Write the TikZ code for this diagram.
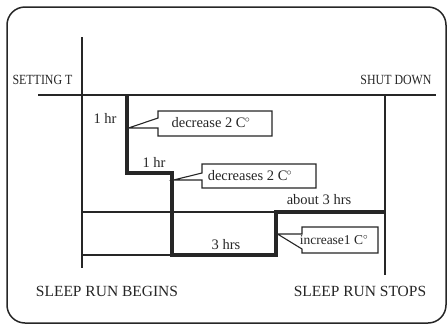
\documentclass[tikz,border=0pt]{standalone}
\usepackage{fontspec}
\setmainfont{Liberation Serif}
\begin{document}
\begin{tikzpicture}[x=1pt,y=-1pt,
  thin line/.style={draw=black!85, line width=1.2pt},
  thick line/.style={draw=black!85, line width=3.2pt, line join=miter},
  callout/.style={draw=black!85, line width=1.1pt, fill=white},
  lbl/.style={font=\fontsize{14.5}{16}\selectfont, text=black!85, inner sep=0pt},
  toplbl/.style={font=\fontsize{14}{16}\selectfont, text=black!85, inner sep=0pt},
  botlbl/.style={font=\fontsize{15.5}{17}\selectfont, text=black!85, inner sep=0pt},
]
\useasboundingbox (0,0) rectangle (448,325);
% outer frame
\draw[draw=black!85, line width=1.5pt, rounded corners=18pt] (7,7) rectangle (446,323);

% named coordinates
\coordinate (axT) at (82,37);
\coordinate (axB) at (82,268);
\coordinate (hL) at (38,95);
\coordinate (hR) at (436,95);
\coordinate (rT) at (385,95);
\coordinate (rB) at (385,275);
\coordinate (m1L) at (82,212);
\coordinate (m1R) at (276,212);
\coordinate (m2L) at (82,255);
\coordinate (m2R) at (172,255);

\draw[thin line] (axT) -- (axB);
\draw[thin line] (hL) -- (hR);
\draw[thin line] (rT) -- (rB);
\draw[thin line] (m1L) -- (m1R);
\draw[thin line] (m2L) -- (m2R);

% thick step profile
\coordinate (s0) at (127,95);
\coordinate (s1) at (127,173);
\coordinate (s2) at (172,173);
\coordinate (s3) at (172,255);
\coordinate (s4) at (276,255);
\coordinate (s5) at (276,212);
\coordinate (s6) at (385,212);
\draw[thick line] (s0) -- (s1) -- (s2) -- (s3) -- (s4) -- (s5) -- (s6);

% callouts
\draw[callout] (158,111) -- (272,111) -- (272,136) -- (158,136) -- (158,128) -- (128.5,128) -- (158,118) -- cycle;
\draw[callout] (202,164) -- (316,164) -- (316,188) -- (202,188) -- (202,180) -- (173.5,180) -- (202,173) -- cycle;
\draw[callout] (302,227) -- (378,227) -- (378,253) -- (302,253) -- (302,249) -- (277.5,234) -- (302,234) -- cycle;

% labels
\node[toplbl] (st) at (42.5,80) {\scalebox{0.85}[1]{SETTING T}};
\node[toplbl] (sd) at (396,80) {\scalebox{0.85}[1]{SHUT DOWN}};
\node[lbl] (h1) at (105,118) {1 hr};
\node[lbl] (h2) at (154,162) {1 hr};
\node[lbl] (d1) at (211,123) {decrease 2 C\kern-0.05em$^{\circ}$};
\node[lbl] (d2) at (250,176) {decreases 2 C\kern-0.05em$^{\circ}$};
\node[lbl] (a3) at (319,200) {about 3 hrs};
\node[lbl] (h3) at (226,245) {3 hrs};
\node[lbl, font=\fontsize{13.5}{15}\selectfont] (i1) at (334,240) {increase1 C$^{\circ}$};
\node[botlbl] (b) at (107,291) {SLEEP RUN BEGINS};
\node[botlbl] (e) at (360,291) {SLEEP RUN STOPS};
\end{tikzpicture}
\end{document}
